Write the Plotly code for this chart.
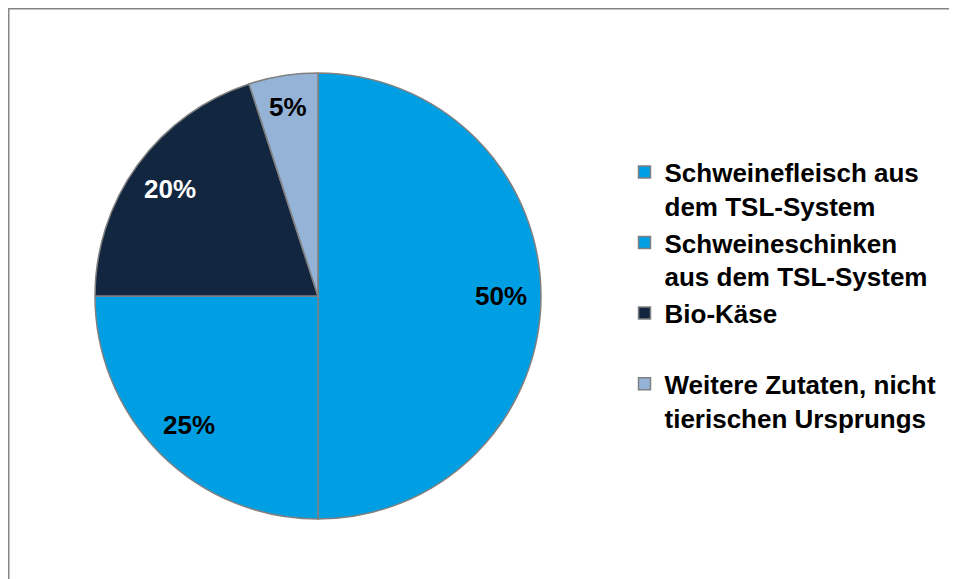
import math
import plotly.graph_objects as go

# data
labels = ["Schweinefleisch aus<br>dem TSL-System",
          "Schweineschinken<br>aus dem TSL-System",
          "Bio-Käse<br> ",
          "Weitere Zutaten, nicht<br>tierischen Ursprungs"]
values = [50, 25, 20, 5]
colors = ["#009FE3", "#009FE3", "#12263F", "#95B3D7"]
text_colors = ["black", "black", "white", "black"]
label_r = [0.82, 0.82, 0.82, 0.86]   # label distance from centre, fraction of radius

# page has an 8px body margin, so figure coords = page coords - 8;
# the figure is made larger than the window so its right/bottom edges are cut off
W, H = 1000, 640
cx, cy, r = 310, 288, 223
FONT = "Liberation Sans, Arial"

fig = go.Figure()
fig.add_trace(go.Pie(
    labels=labels,
    values=values,
    sort=False,
    direction="clockwise",
    rotation=0,
    marker=dict(colors=colors, line=dict(color="#808080", width=1.5)),
    textinfo="none",
    domain=dict(x=[(cx - r) / W, (cx + r) / W],
                y=[(H - cy - r) / H, (H - cy + r) / H]),
    hoverinfo="label+percent",
))

# percentage labels placed at the middle angle of each slice
total = sum(values)
annotations = []
cum = 0
for v, c, k in zip(values, text_colors, label_r):
    theta = 2 * math.pi * (cum + v / 2) / total
    cum += v
    px = cx + k * r * math.sin(theta)
    py = cy - k * r * math.cos(theta)
    annotations.append(dict(
        x=px / W, y=1 - py / H, xref="paper", yref="paper",
        text="%d%%" % round(100 * v / total), showarrow=False,
        font=dict(family=FONT, size=26, color=c, weight="bold"),
        xanchor="center", yanchor="middle",
    ))

# outer frame: only the top and left edges are inside the picture
frame = dict(color="#868686", width=2)
shapes = [
    dict(type="line", xref="paper", yref="paper",
         x0=0, x1=1, y0=1 - 0.5 / H, y1=1 - 0.5 / H, line=frame),
    dict(type="line", xref="paper", yref="paper",
         x0=0.5 / W, x1=0.5 / W, y0=0, y1=1, line=frame),
]

fig.update_layout(
    width=W, height=H,
    margin=dict(l=0, r=0, t=0, b=0),
    paper_bgcolor="white",
    font=dict(family=FONT, color="black"),
    legend=dict(
        x=616.5 / W, xanchor="left",
        y=1 - 140.5 / H, yanchor="top",
        font=dict(size=26, family=FONT, weight="bold"),
        valign="top",
    ),
    annotations=annotations,
    shapes=shapes,
)

fig.write_html("out.html")
